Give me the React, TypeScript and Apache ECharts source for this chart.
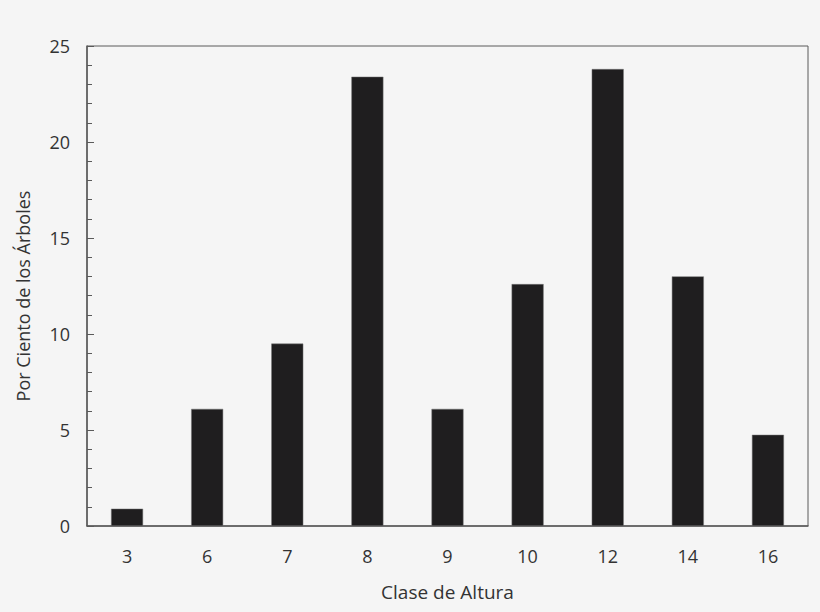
import { useEffect, useRef } from "react";
import * as echarts from "echarts";

// Height classes and percent of trees in each
const heightClasses = ["3", "6", "7", "8", "9", "10", "12", "14", "16"];
const percentTrees = [0.9, 6.1, 9.5, 23.4, 6.1, 12.6, 23.8, 13.0, 4.75];

const FONT = "'Open Sans', 'DejaVu Sans', sans-serif";
const TEXT = "#333333";
const AXIS = "#5a5a5a";

export default function App() {
  const chartRef = useRef<HTMLDivElement>(null);

  useEffect(() => {
    if (!chartRef.current) return;
    const chart = echarts.init(chartRef.current, undefined, { renderer: "svg" });

    chart.setOption({
      animation: false,
      backgroundColor: "#f5f5f5",
      grid: {
        left: 87,
        top: 46,
        right: 12,
        bottom: 86,
        show: true,
        borderColor: AXIS,
        borderWidth: 1,
        backgroundColor: "transparent",
      },
      xAxis: {
        type: "category",
        data: heightClasses,
        name: "Clase de Altura",
        nameLocation: "middle",
        nameGap: 56,
        nameTextStyle: { fontFamily: FONT, fontSize: 19, color: TEXT },
        axisLine: { lineStyle: { color: AXIS, width: 1.5 } },
        axisTick: {
          inside: true,
          length: 6,
          lineStyle: { color: "#bbbbbb" },
        },
        axisLabel: {
          margin: 21,
          fontFamily: FONT,
          fontSize: 18,
          color: TEXT,
        },
      },
      yAxis: {
        type: "value",
        min: 0,
        max: 25,
        interval: 5,
        name: "Por Ciento de los Árboles",
        nameLocation: "middle",
        nameGap: 55,
        nameTextStyle: {
          fontFamily: FONT,
          fontSize: 18,
          color: TEXT,
          padding: [0, 20, 0, 0],
        },
        axisLine: { show: true, lineStyle: { color: AXIS, width: 1.5 } },
        axisTick: {
          show: true,
          inside: true,
          length: 7,
          lineStyle: { color: AXIS },
        },
        minorTick: {
          show: true,
          splitNumber: 5,
          length: 5,
          lineStyle: { color: AXIS },
        },
        splitLine: { show: false },
        axisLabel: {
          margin: 17,
          fontFamily: FONT,
          fontSize: 18,
          color: TEXT,
        },
      },
      series: [
        {
          type: "bar",
          data: percentTrees,
          barWidth: 32,
          itemStyle: { color: "#1f1e1f", borderColor: "#777777", borderWidth: 0.5 },
        },
      ],
    });

    return () => chart.dispose();
  }, []);

  return (
    <div
      ref={chartRef}
      style={{ position: "fixed", left: 0, top: 0, width: 820, height: 612 }}
    />
  );
}
